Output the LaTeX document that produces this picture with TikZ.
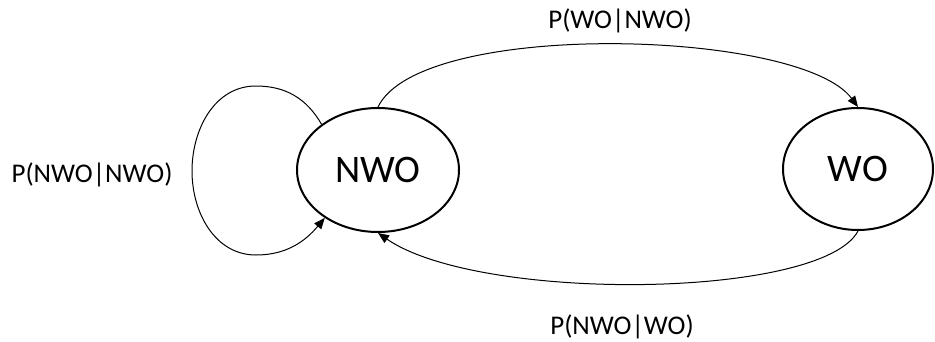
\documentclass[tikz,border=0pt]{standalone}
\usepackage{fontspec}
\setmainfont{Carlito}
\usetikzlibrary{arrows.meta,shapes.geometric}

\begin{document}
\begin{tikzpicture}[x=1pt,y=1pt,
  state/.style={draw,ellipse,line width=2pt,inner sep=0pt,
    font=\fontsize{39}{42}\selectfont},
  trans/.style={draw,line width=1pt,-{Triangle[length=11pt,width=9pt]}},
  prob/.style={font=\fontsize{27}{30}\selectfont,inner sep=0pt}]
  \useasboundingbox (0,0) rectangle (935,341);

  % the two states
  \node[state,minimum width=162pt,minimum height=124pt] (nwo) at (378,171) {NWO};
  \node[state,minimum width=150pt,minimum height=122pt] (wo) at (858,172) {WO};

  % transitions
  \draw[trans] (nwo.north) .. controls (420,322) and (800,312) .. (wo.north);
  \draw[trans] (wo.south) .. controls (822,42) and (480,38) .. (nwo.south);
  \draw[trans] (nwo.141) to[out=120,in=0] (256,255) to[out=180,in=90] (192,170)
    to[out=270,in=180] (256,86) to[out=0,in=230] (nwo.222);

  % transition probabilities
  \node[prob] (pnn) at (92,166) {P(NWO|NWO)};
  \node[prob] (pwn) at (620,320) {P(WO|NWO)};
  \node[prob] (pnw) at (622,14) {P(NWO|WO)};
\end{tikzpicture}
\end{document}
